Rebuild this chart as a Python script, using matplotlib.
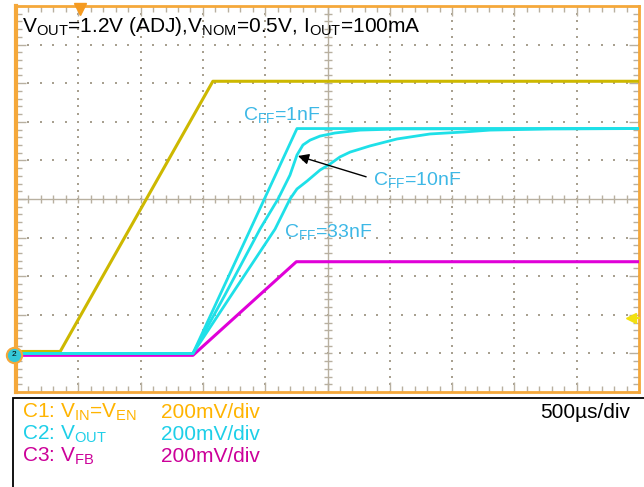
import matplotlib
matplotlib.use("Agg")
import matplotlib.pyplot as plt
from matplotlib.patches import Rectangle
import numpy as np

plt.rcParams['font.family'] = ['Liberation Sans', 'DejaVu Sans']
plt.rcParams['mathtext.fontset'] = 'custom'
plt.rcParams['mathtext.rm'] = 'Liberation Sans'
plt.rcParams['mathtext.it'] = 'Liberation Sans'
plt.rcParams['mathtext.bf'] = 'Liberation Sans'
plt.rcParams['mathtext.default'] = 'regular'

# ---- data (time in microseconds, voltage in volts, common ground) ----
c1_t = [0, 355, 1580, 5000]
c1_v = [0.01, 0.01, 1.41, 1.41]

c3_t = [0, 1420, 2250, 5000]
c3_v = [-0.01, -0.01, 0.475, 0.475]

c2_1nF_t = [0, 1420, 2255, 5000]
c2_1nF_v = [0.0, 0.0, 1.165, 1.165]

c2_10nF_t = [0, 1420, 1677, 1958, 2103, 2199, 2255, 2303, 2360, 2440, 2560, 2761, 3082, 5000]
c2_10nF_v = [0.0, 0.0, 0.303, 0.644, 0.800, 0.924, 1.028, 1.080, 1.105, 1.126, 1.142, 1.157, 1.163, 1.165]

c2_33nF_t = [0, 1420, 1718, 2079, 2199, 2255, 2336, 2440, 2520, 2600, 2681, 2841, 3058, 3323, 3588, 3804, 4286, 5000]
c2_33nF_v = [0.0, 0.0, 0.292, 0.644, 0.800, 0.852, 0.893, 0.950, 0.981, 1.018, 1.043, 1.075, 1.111, 1.137, 1.147, 1.157, 1.163, 1.165]

time_per_div = 500      # us
volt_per_div = 0.2      # V
x_min, x_max = 0, 5000
y_min, y_max = -0.2, 1.8

title_txt = r"V$_{OUT}$=1.2V (ADJ),V$_{NOM}$=0.5V, I$_{OUT}$=100mA"
legend_rows = [
    (r"C1: V$_{IN}$=V$_{EN}$", "200mV/div", "#FFB400"),
    (r"C2: V$_{OUT}$", "200mV/div", "#1ECFE8"),
    (r"C3: V$_{FB}$", "200mV/div", "#CC0099"),
]
timebase_txt = "500\u00b5s/div"

C1_COL = "#CDB800"
C2_COL = "#1EE0E8"
C3_COL = "#E000D8"
LBL_COL = "#3DB8E6"
FRAME_COL = "#F5A83A"
GRID_COL = "#B8B0A0"
DOT_COL = "#A8A090"

W, H = 644, 487
fig = plt.figure(figsize=(W / 100, H / 100), dpi=100)
fig.patch.set_facecolor("white")

L, R, T, B = 16, 639, 6, 392
ax = fig.add_axes([L / W, 1 - B / H, (R - L) / W, (B - T) / H])
ax.set_xlim(x_min, x_max)
ax.set_ylim(y_min, y_max)

for s in ax.spines.values():
    s.set_color(FRAME_COL)
    s.set_linewidth(2)
ax.spines['left'].set_linewidth(3)

xmaj = np.arange(x_min, x_max + 1, time_per_div)
ymaj = np.arange(y_min, y_max + 1e-9, volt_per_div)
xmin_t = np.arange(x_min, x_max + 1, time_per_div / 5)
ymin_t = np.arange(y_min, y_max + 1e-9, volt_per_div / 5)
ax.set_xticks(xmaj)
ax.set_yticks(ymaj)
ax.set_xticks(xmin_t, minor=True)
ax.set_yticks(ymin_t, minor=True)
ax.tick_params(which='both', direction='in', top=True, right=True,
               labelbottom=False, labelleft=False, color=GRID_COL)
ax.tick_params(which='major', length=7, width=1)
ax.tick_params(which='minor', length=4, width=1)

xc = (x_min + x_max) / 2
yc = (y_min + y_max) / 2
# dotted grid
for xv in xmaj[1:-1]:
    if abs(xv - xc) < 1e-6:
        continue
    ax.plot([xv] * len(ymin_t), ymin_t, ls='none', marker='s', ms=1.7,
            color=DOT_COL, mew=0, zorder=1)
for yv in ymaj[1:-1]:
    if abs(yv - yc) < 1e-6:
        continue
    ax.plot(xmin_t, [yv] * len(xmin_t), ls='none', marker='s', ms=1.7,
            color=DOT_COL, mew=0, zorder=1)
# centre cross
ax.axhline(yc, color=GRID_COL, lw=1, zorder=1)
ax.axvline(xc, color=GRID_COL, lw=1, zorder=1)
ax.plot(xmin_t, [yc] * len(xmin_t), ls='none', marker='|', ms=6, mew=1,
        color=GRID_COL, zorder=1)
ax.plot([xc] * len(ymin_t), ymin_t, ls='none', marker='_', ms=6, mew=1,
        color=GRID_COL, zorder=1)

# traces
ax.plot(c1_t, c1_v, color=C1_COL, lw=2.2, zorder=3)
ax.plot(c3_t, c3_v, color=C3_COL, lw=2.2, zorder=3)
ax.plot(c2_33nF_t, c2_33nF_v, color=C2_COL, lw=2.0, zorder=4)
ax.plot(c2_10nF_t, c2_10nF_v, color=C2_COL, lw=2.0, zorder=4)
ax.plot(c2_1nF_t, c2_1nF_v, color=C2_COL, lw=2.0, zorder=4)

# trace labels
ax.text(1822, 1.235, r"C$_{FF}$=1nF", color=LBL_COL, fontsize=14, va='center', ha='left')
ax.text(2865, 0.90, r"C$_{FF}$=10nF", color=LBL_COL, fontsize=14, va='center', ha='left')
ax.text(2150, 0.63, r"C$_{FF}$=33nF", color=LBL_COL, fontsize=14, va='center', ha='left')
ax.annotate("", xy=(2263, 1.023), xytext=(2810, 0.915),
            arrowprops=dict(arrowstyle='-|>', color='black', lw=1.0,
                            mutation_scale=16, shrinkA=0, shrinkB=0), zorder=6)

# title
ax.text(6 / (R - L), 1 - 20 / (B - T), title_txt, transform=ax.transAxes,
        fontsize=15, color='black', va='center', ha='left')

# markers
ax.plot([(80 - L) / (R - L)], [1 - 3 / (B - T)], marker='v', ms=8, color="#F59A20",
        transform=ax.transAxes, clip_on=False, zorder=7)
ax.plot([(14 - L) / (R - L)], [(B - 355) / (B - T)], marker='o', ms=11,
        markerfacecolor="#35C8D8", markeredgecolor=FRAME_COL, mew=1.5,
        transform=ax.transAxes, clip_on=False, zorder=8)
ax.text((14 - L) / (R - L), (B - 355) / (B - T), "2", fontsize=6, ha='center',
        va='center', transform=ax.transAxes, zorder=9, color='black')
ax.plot([(631 - L) / (R - L)], [(B - 318) / (B - T)], marker='<', ms=7,
        color="#F2E010", transform=ax.transAxes, clip_on=False, zorder=7)
ax.plot([(631 - L) / (R - L), 1.0], [(B - 318) / (B - T)] * 2, color="#F2E010",
        lw=1.5, transform=ax.transAxes, clip_on=False, zorder=7)

# info box
fig.patches.append(Rectangle((13 / W, -0.05), (W - 13 + 20) / W, (1 - 398 / H) + 0.05,
                             transform=fig.transFigure, facecolor='white',
                             edgecolor='black', lw=1.3))
row_y = [412, 434, 456]
for (lab, scale, col), yy in zip(legend_rows, row_y):
    fig.text(22 / W, 1 - yy / H, lab, color=col, fontsize=15, va='center', ha='left')
    fig.text(161 / W, 1 - yy / H, scale, color=col, fontsize=15, va='center', ha='left')
fig.text(630 / W, 1 - 412 / H, timebase_txt, color='black', fontsize=15,
         va='center', ha='right')

fig.savefig("out.png", dpi=100, facecolor='white')
